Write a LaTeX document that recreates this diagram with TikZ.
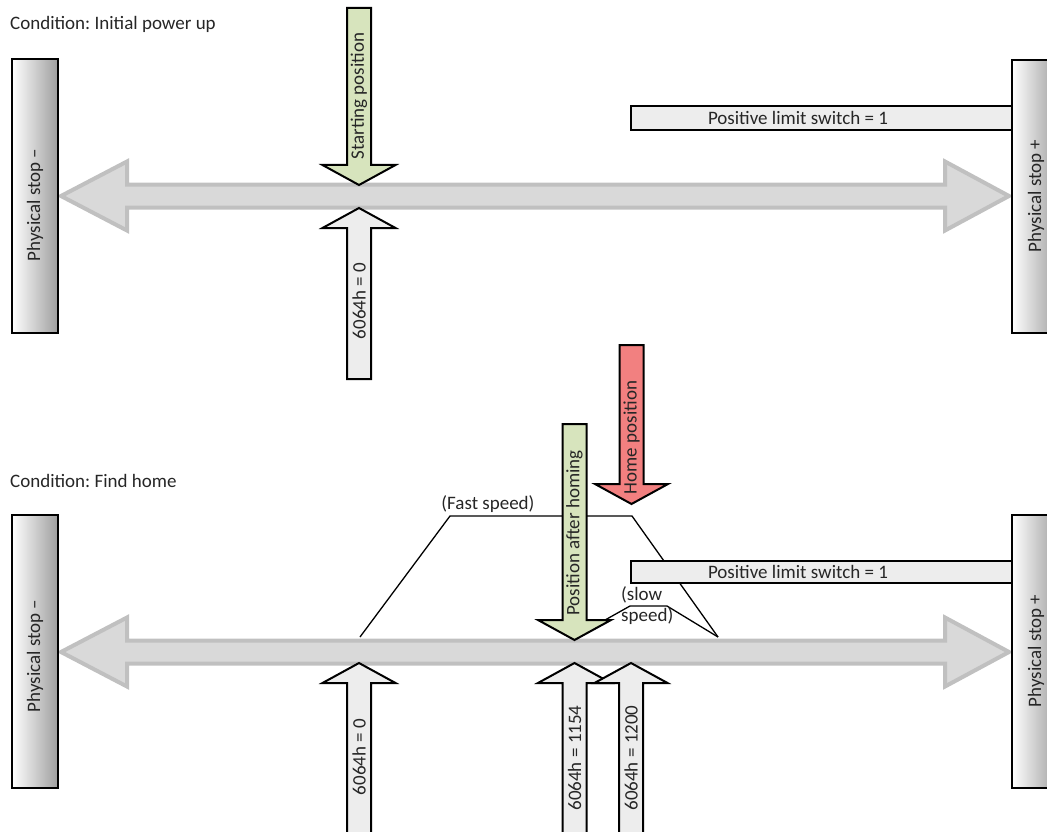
\documentclass[tikz,border=0pt]{standalone}
\usepackage{fontspec}
\setmainfont{Carlito}
\frenchspacing
\usetikzlibrary{calc}

\definecolor{posgreen}{RGB}{215,228,189}
\definecolor{homered}{RGB}{242,128,128}
\definecolor{barfill}{RGB}{237,237,237}
\definecolor{axisfill}{RGB}{217,217,217}
\definecolor{axisdraw}{RGB}{192,192,192}
\definecolor{txt}{RGB}{38,38,38}

\tikzset {
    every node/.style = {
        font = \fontsize{19}{21}\selectfont,
        text = txt,
        inner sep = 0pt
    },
    stop/.style = {
        draw,
        line width = 2pt,
        left color = white,
        middle color = black!6,
        right color = black!38,
        minimum width = 46pt,
        minimum height = 273pt
    },
    axis/.style = {
        draw = axisdraw,
        fill = axisfill,
        line width = 4pt
    },
    posarrow/.style = {
        draw,
        line width = 2pt,
        line join = miter
    },
    bar/.style = {
        draw,
        fill = barfill,
        line width = 2pt
    },
    profile/.style = {
        draw,
        line width = 1.3pt
    },
    vtext/.style = {
        rotate = 90
    }
}

% big double arrow, #1 = centre line
\newcommand{\axisarrow}[1]{%
    \draw[axis] (61,#1) -- (127,#1-34.5) -- (127,#1-11.5) -- (945,#1-11.5)
        -- (945,#1-34.5) -- (1009,#1) -- (945,#1+34.5) -- (945,#1+11.5)
        -- (127,#1+11.5) -- (127,#1+34.5) -- cycle;
}
% block arrow: #1 name, #2 x, #3 tail y, #4 tip y, #5 fill, #6 text y, #7 text
\newcommand{\blockarrow}[7]{%
    \pgfmathsetmacro{\headbase}{#4+20*sign(#3-#4)}
    \draw[posarrow, fill=#5] (#2-12,#3) -- (#2-12,\headbase) -- (#2-36.5,\headbase)
        -- (#2,#4) -- (#2+36.5,\headbase) -- (#2+12,\headbase) -- (#2+12,#3) -- cycle;
    \node[vtext] (#1) at (#2,#6) {#7};
}

\begin{document}
\begin{tikzpicture}[x=1pt, y=-1pt]
    \useasboundingbox (0,0) rectangle (1047,832);

    % Upper part : initial power up
    \node[anchor=base west] (cond1) at (10,30) {Condition: Initial power up};
    \axisarrow{196}
    \node[bar, minimum width=381pt, minimum height=24pt] (limitbar1) at (821.5,118) {};
    \node (limittext1) at (798,118) {Positive limit switch = 1};
    \blockarrow{startpos}{359}{8}{185}{posgreen}{96}{Starting position}
    \blockarrow{cnttop}{359}{379}{208}{barfill}{301}{6064h = 0}
    \node[stop] (stopminus1) at (35,196) {};
    \node[vtext] at (35,205) {Physical stop –};
    \node[stop] (stopplus1) at (1035,196.5) {};
    \node[vtext] at (1036,196) {Physical stop +};

    % Lower part : find home
    \node[anchor=base west] (cond2) at (10,487) {Condition: Find home};
    \axisarrow{652}
    \draw[profile] (360,637) -- (450,516) -- (632,516) -- (718,637);
    \draw[profile] (573,638) -- (630,606) -- (667,606) -- (718,637);
    \node (fast) at (488,504) {(Fast speed)};
    \node[align=left, anchor=north west] (slow) at (621,586) {(slow\\speed)};
    \node[bar, minimum width=381pt, minimum height=22pt] (limitbar2) at (821.5,572) {};
    \node (limittext2) at (798,572) {Positive limit switch = 1};
    \blockarrow{homepos}{631.5}{345}{504}{homered}{437.5}{Home position}
    \blockarrow{afterhoming}{574.5}{424}{640}{posgreen}{533}{Position after homing}
    \blockarrow{cntzero}{359}{860}{663}{barfill}{757}{6064h = 0}
    \blockarrow{cnthome}{574.5}{860}{663}{barfill}{758}{6064h = 1154}
    \blockarrow{cntlimit}{631}{860}{663}{barfill}{758}{6064h = 1200}
    \node[stop] (stopminus2) at (35,651.5) {};
    \node[vtext] at (35,656) {Physical stop –};
    \node[stop] (stopplus2) at (1035,651.5) {};
    \node[vtext] at (1036,651) {Physical stop +};
\end{tikzpicture}
\end{document}
